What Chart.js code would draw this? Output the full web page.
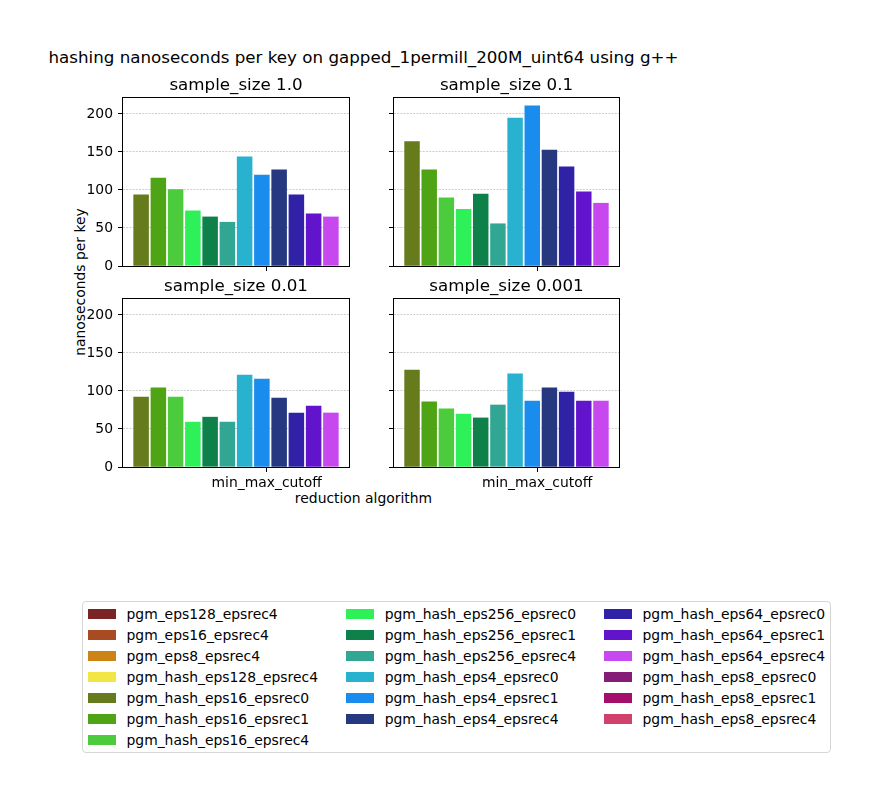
<!DOCTYPE html>
<html>
<head>
<meta charset="utf-8">
<script src="https://cdn.jsdelivr.net/npm/chart.js@4.4.0/dist/chart.umd.min.js"></script>
<style>
  body { margin: 0; background: #fff; font-family: 'DejaVu Sans', sans-serif; color: #000; }
  #fig { position: relative; width: 881px; height: 803px; overflow: hidden; }
  .txt { position: absolute; white-space: nowrap; line-height: 1; }
  canvas { position: absolute; }
  #legend { position: absolute; left: 82px; top: 601px; width: 747px; height: 150px;
            border: 1px solid #d6d6d6; border-radius: 4px; }
  .item { position: absolute; height: 21px; display: flex; align-items: center;
          font-size: 13.9px; white-space: nowrap; }
  .swatch { width: 28px; height: 10px; margin-right: 11px; flex: none; }
</style>
</head>
<body>
<div id="fig">
  <div class="txt" style="left:363.5px; top:49px; font-size:16.7px; transform:translateX(-50%)">hashing nanoseconds per key on gapped_1permill_200M_uint64 using g++</div>
  <div class="txt" style="left:81px; top:282px; font-size:13.9px; transform:translate(-50%,-50%) rotate(-90deg)">nanoseconds per key</div>
  <div class="txt" style="left:363.5px; top:492px; font-size:13.9px; transform:translateX(-50%)">reduction algorithm</div>
  <canvas id="c0" width="292" height="222" style="left:63px; top:66px"></canvas>
  <canvas id="c1" width="241" height="222" style="left:384px; top:66px"></canvas>
  <canvas id="c2" width="292" height="230" style="left:63px; top:267px"></canvas>
  <canvas id="c3" width="241" height="230" style="left:384px; top:267px"></canvas>
  <div id="legend"></div>
</div>
<script>
const seriesNames = [
  'pgm_eps128_epsrec4', 'pgm_eps16_epsrec4', 'pgm_eps8_epsrec4',
  'pgm_hash_eps128_epsrec4', 'pgm_hash_eps16_epsrec0', 'pgm_hash_eps16_epsrec1',
  'pgm_hash_eps16_epsrec4', 'pgm_hash_eps256_epsrec0', 'pgm_hash_eps256_epsrec1',
  'pgm_hash_eps256_epsrec4', 'pgm_hash_eps4_epsrec0', 'pgm_hash_eps4_epsrec1',
  'pgm_hash_eps4_epsrec4', 'pgm_hash_eps64_epsrec0', 'pgm_hash_eps64_epsrec1',
  'pgm_hash_eps64_epsrec4', 'pgm_hash_eps8_epsrec0', 'pgm_hash_eps8_epsrec1',
  'pgm_hash_eps8_epsrec4',
]
const seriesColors = [
  '#7b2426', '#a84a22', '#cc8416', '#f2e546', '#667b1c', '#4ea414', '#4ccb3c',
  '#2ef15a', '#0e814a', '#31a693', '#29b2cf', '#198cee', '#253880',
  '#2f22a7', '#6114cc', '#c748ef', '#841c78', '#a50f6c', '#d0416b',
]

const panelTitles = ['sample_size 1.0', 'sample_size 0.1', 'sample_size 0.01', 'sample_size 0.001']

// nanoseconds per key, one value per series (null = not measured)
const nsSample1 = [null, null, null, null, 94, 116, 101, 73, 65, 58, 144, 120, 127, 94, 69, 65, null, null, null]
const nsSample01 = [null, null, null, null, 164, 127, 90, 75, 95, 56, 195, 211, 153, 131, 98, 83, null, null, null]
const nsSample001 = [null, null, null, null, 92.5, 104.5, 92.5, 59.5, 66, 59.5, 121.5, 116, 91, 71.5, 80.5, 71.5, null, null, null]
const nsSample0001 = [null, null, null, null, 128, 86, 77, 70, 65, 82, 123, 87, 104.5, 99, 87, 87, null, null, null]

const yTicks = [0, 50, 100, 150, 200]
const yMax = 221
const xTickLabel = 'min_max_cutoff'
const xTickPos = 7.28

const panels = [nsSample1, nsSample01, nsSample001, nsSample0001]

// spines + subplot title
const framePlugin = {
  id: 'frame',
  afterDraw(chart, args, opts) {
    const { ctx, chartArea: a } = chart
    ctx.save()
    ctx.strokeStyle = '#000'
    ctx.lineWidth = 1
    ctx.strokeRect(a.left - 0.5, a.top - 0.5, a.right - a.left + 1, a.bottom - a.top + 1)
    ctx.fillStyle = '#000'
    ctx.font = '16.7px "DejaVu Sans"'
    ctx.textAlign = 'center'
    ctx.textBaseline = 'alphabetic'
    ctx.fillText(opts.text, (a.left + a.right) / 2, a.top - 8.5)
    ctx.restore()
  },
}

panels.forEach((values, p) => {
  const isLeft = p % 2 === 0
  const isBottom = p >= 2
  const present = seriesNames.map((n, i) => i).filter((i) => values[i] !== null)

  const config = {
    type: 'bar',
    data: {
      datasets: [
        {
          data: present.map((s, i) => ({ x: i, y: values[s] })),
          backgroundColor: present.map((s) => seriesColors[s]),
          borderWidth: 0,
          barPercentage: 0.9,
          categoryPercentage: 1,
        },
      ],
    },
    options: {
      responsive: false,
      animation: false,
      layout: { padding: { top: 32, right: 6, left: 0, bottom: 0 } },
      scales: {
        x: {
          type: 'linear',
          min: -1.05,
          max: 12.05,
          offset: false,
          afterBuildTicks: (scale) => {
            scale.ticks = [{ value: xTickPos }]
          },
          afterFit: (scale) => {
            scale.height = isBottom ? 30 : 22
          },
          ticks: {
            autoSkip: false,
            maxRotation: 0,
            padding: 3,
            color: '#000',
            font: { family: 'DejaVu Sans', size: 13.9 },
            callback: () => (isBottom ? xTickLabel : ''),
          },
          grid: {
            offset: false,
            drawOnChartArea: false,
            tickColor: '#000',
            tickLength: 5,
            tickWidth: 1,
          },
          border: { display: false },
        },
        y: {
          min: 0,
          max: yMax,
          afterBuildTicks: (scale) => {
            scale.ticks = yTicks.map((v) => ({ value: v }))
          },
          afterFit: (scale) => {
            scale.width = isLeft ? 60 : 10
          },
          ticks: {
            display: isLeft,
            padding: 5,
            color: '#000',
            font: { family: 'DejaVu Sans', size: 13.9 },
          },
          grid: {
            color: '#b8b8b8',
            lineWidth: 0.7,
            tickColor: '#000',
            tickLength: 5,
            tickWidth: 1,
            tickBorderDash: [],
          },
          border: { display: false, dash: [2, 1.2] },
        },
      },
      plugins: {
        legend: { display: false },
        tooltip: { enabled: false },
        frame: { text: panelTitles[p] },
      },
    },
    plugins: [framePlugin],
  }

  new Chart(document.getElementById('c' + p), config)
})

// legend, 3 columns like the original figure
const legend = document.getElementById('legend')
const colRows = [7, 6, 6]
const colLeft = [4.5, 262.7, 520.5]
let k = 0
colRows.forEach((rows, c) => {
  for (let r = 0; r < rows; r++, k++) {
    const item = document.createElement('div')
    item.className = 'item'
    item.style.left = colLeft[c] + 'px'
    item.style.top = (1 + r * 21.1) + 'px'
    const sw = document.createElement('span')
    sw.className = 'swatch'
    sw.style.background = seriesColors[k]
    const label = document.createElement('span')
    label.textContent = seriesNames[k]
    item.appendChild(sw)
    item.appendChild(label)
    legend.appendChild(item)
  }
})
</script>
</body>
</html>
